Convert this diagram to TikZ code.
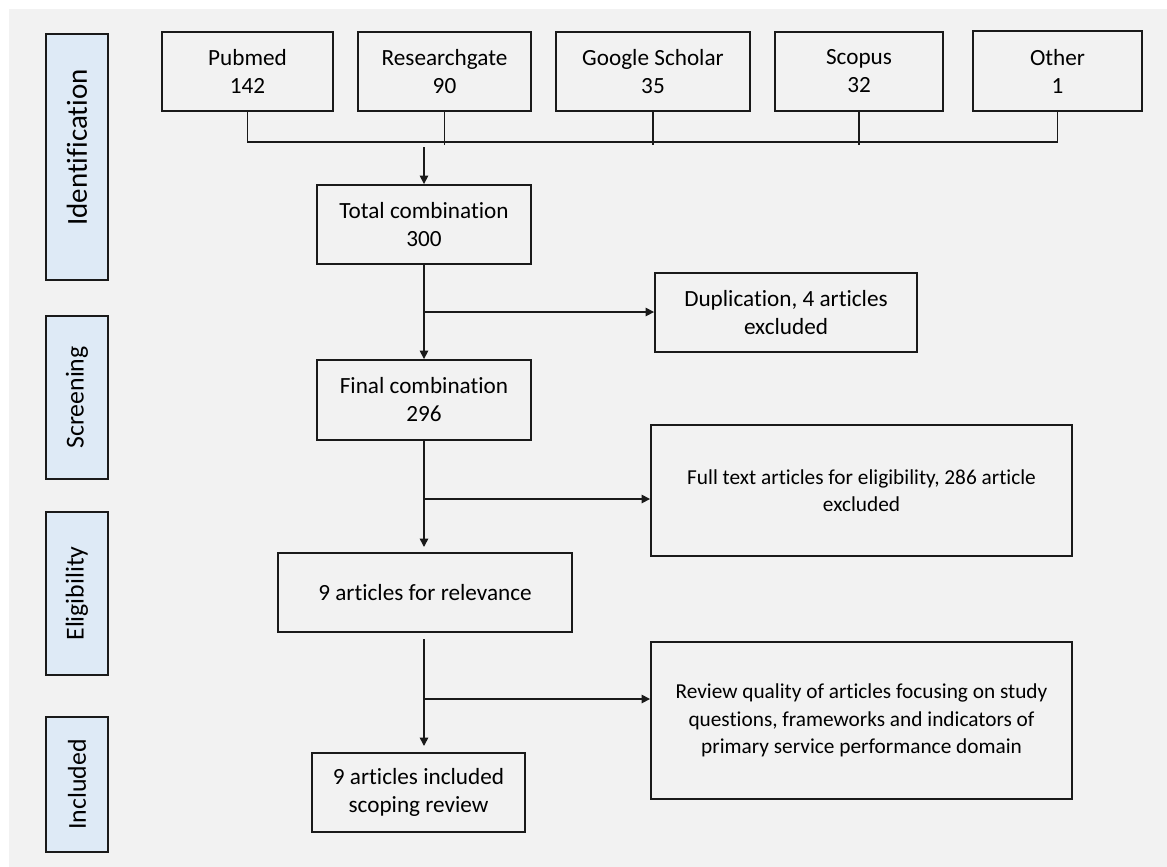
\documentclass[tikz,border=0pt]{standalone}
\usepackage{fontspec}
\setmainfont{Carlito}[Ligatures=CommonOff]
\usetikzlibrary{arrows.meta}
\definecolor{bggray}{HTML}{F2F2F2}
\definecolor{sidefill}{HTML}{DEEAF6}
\definecolor{edge}{HTML}{1A1A1A}
\tikzset{
  box/.style={draw=edge, line width=1.9pt, inner sep=0pt, align=center,
    text=black, font=\fontsize{23.2}{28}\selectfont},
  bigbox/.style={box, font=\fontsize{21.3}{27.5}\selectfont},
  sidebox/.style={box, fill=sidefill, rotate=90, minimum height=62pt,
    font=\fontsize{25.8}{30}\selectfont},
  conn/.style={draw=edge, line width=1.6pt},
  arr/.style={conn, -{Triangle[length=8.5pt,width=8.5pt]}}
}
\begin{document}
\begin{tikzpicture}[x=1pt,y=-1pt]
\useasboundingbox (0,0) rectangle (1167,867);
\fill[white] (0,0) rectangle (1167,867);
\fill[bggray] (9,9) rectangle (1167,867);

% phase labels (rotated: minimum width is along text, height across)
\node[sidebox, minimum width=246pt, font=\fontsize{29}{34}\selectfont] (ident) at (77,157) {\hspace*{19pt}Identification};
\node[sidebox, minimum width=163pt] (screen) at (77,397.5) {Screening};
\node[sidebox, minimum width=163pt] (elig) at (77,593.5) {Eligibility};
\node[sidebox, minimum width=135pt] (incl) at (77,784.5) {Included};

% sources
\node[box, minimum width=171pt, minimum height=79pt] (pubmed) at (247.5,71.5) {Pubmed\\142};
\node[box, minimum width=173pt, minimum height=79pt] (rg) at (444.5,71.5) {Researchgate\\90};
\node[box, minimum width=194pt, minimum height=79pt] (gs) at (653,71.5) {Google Scholar\\35};
\node[box, minimum width=168pt, minimum height=79pt] (scopus) at (859,71.5) {Scopus\\32};
\node[box, minimum width=169pt, minimum height=80pt] (other) at (1057.5,71) {Other\\1};

% main flow
\node[box, minimum width=214pt, minimum height=79pt] (total) at (424,224.5) {Total combination\\300};
\node[box, minimum width=262pt, minimum height=79pt] (dup) at (786,312.5) {Duplication, 4 articles\\excluded};
\node[box, minimum width=214pt, minimum height=80pt] (final) at (424,400) {Final combination\\296};
\node[bigbox, minimum width=421pt, minimum height=131pt] (full) at (861.5,490.5) {Full text articles for eligibility, 286 article\\excluded};
\node[box, minimum width=294pt, minimum height=79pt] (rel) at (425,592.5) {9 articles for relevance};
\node[bigbox, minimum width=421pt, minimum height=157pt] (review) at (861.5,720.5) {Review quality of articles focusing on study\\questions, frameworks and indicators of\\primary service performance domain};
\node[box, minimum width=213pt, minimum height=79pt] (inc9) at (418.5,792.5) {9 articles included\\scoping review};

% bracket joining sources
\draw[conn] (pubmed.south) -- ++(0,30) -| (other.south);
\draw[conn] (rg.south) -- ++(0,33);
\draw[conn] (gs.south) -- ++(0,33);
\draw[conn] (scopus.south) -- ++(0,33);

% arrows
\coordinate (b0) at (424,147);
\draw[arr] (b0) -- (total.north);

\coordinate (b1) at (424,312);
\draw[arr] (total.south) -- (final.north);
\draw[arr] (b1) -- (b1 -| dup.west);

\coordinate (b2) at (424,499);
\coordinate (t2) at (424,547);
\draw[arr] (final.south) -- (t2);
\draw[arr] (b2) -- (b2 -| full.west);

\coordinate (s3) at (424,639);
\coordinate (t3) at (424,746);
\coordinate (b3) at (424,699);
\draw[arr] (s3) -- (t3);
\draw[arr] (b3) -- (b3 -| review.west);
\end{tikzpicture}
\end{document}
